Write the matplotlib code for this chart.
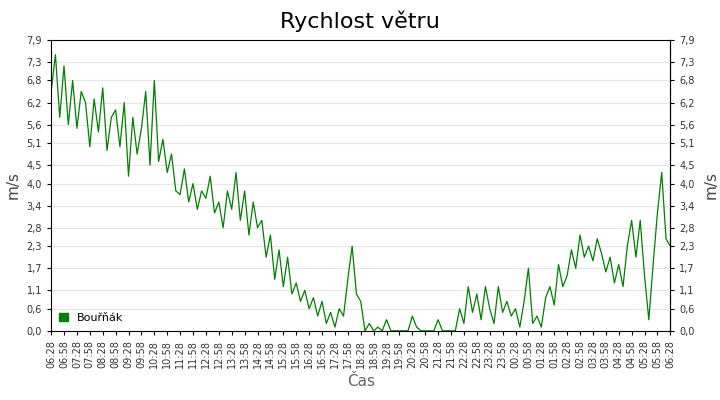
import matplotlib
matplotlib.use("Agg")
import matplotlib.pyplot as plt
import numpy as np
from matplotlib.patches import Patch

title = "Rychlost větru"
series_name = "Bouřňák"
tick_labels = ["06:28","06:58","07:28","07:58","08:28","08:58","09:28","09:58","10:28","10:58",
 "11:28","11:58","12:28","12:58","13:28","13:58","14:28","14:58","15:28","15:58",
 "16:28","16:58","17:28","17:58","18:28","18:58","19:28","19:58","20:28","20:58",
 "21:28","21:58","22:28","22:58","23:28","23:58","00:28","00:58","01:28","01:58",
 "02:28","02:58","03:28","03:58","04:28","04:58","05:28","05:58","06:28"]
y_ticks = [0.0,0.6,1.1,1.7,2.3,2.8,3.4,4.0,4.5,5.1,5.6,6.2,6.8,7.3,7.9]
# wind speed samples every 10 minutes from 06:28
speed = [6.5,7.5,5.8, 7.2,5.6,6.8, 5.5,6.5,6.2, 5.0,6.3,5.4, 6.6,4.9,5.8, 6.0,5.0,6.2,
 4.2,5.8,4.8, 5.5,6.5,4.5, 6.8,4.6,5.2, 4.3,4.8,3.8, 3.7,4.4,3.5, 4.0,3.3,3.8,
 3.6,4.2,3.2, 3.5,2.8,3.8, 3.3,4.3,3.0, 3.8,2.6,3.5, 2.8,3.0,2.0, 2.6,1.4,2.2,
 1.2,2.0,1.0, 1.3,0.8,1.1, 0.6,0.9,0.4, 0.8,0.2,0.5, 0.1,0.6,0.4, 1.4,2.3,1.0,
 0.8,0.0,0.2, 0.0,0.1,0.0, 0.3,0.0,0.0, 0.0,0.0,0.0, 0.4,0.1,0.0, 0.0,0.0,0.0,
 0.3,0.0,0.0, 0.0,0.0,0.6, 0.2,1.2,0.5, 1.0,0.3,1.2, 0.6,0.2,1.2, 0.5,0.8,0.4,
 0.6,0.1,0.8, 1.7,0.2,0.4, 0.1,0.9,1.2, 0.7,1.8,1.2, 1.5,2.2,1.7, 2.6,2.0,2.3,
 1.9,2.5,2.1, 1.6,2.0,1.3, 1.8,1.2,2.3, 3.0,2.0,3.0, 1.5,0.3,1.8, 3.2,4.3,2.5, 2.3]

minutes = np.arange(len(speed)) * 10

fig = plt.figure(figsize=(7.2, 4.0), dpi=100)
ax = fig.add_axes([0.071, 0.173, 0.860, 0.727])
ax.plot(minutes, speed, color="#008000", lw=0.9)
ax.set_xlim(0, 1440)
ax.set_ylim(0, 7.9)
ax.set_xticks(np.arange(len(tick_labels)) * 30)
ax.set_xticklabels(tick_labels, rotation=90, fontsize=7, color="#333333")
ax.set_yticks(y_ticks)
ax.set_yticklabels([f"{v:.1f}".replace(".", ",") for v in y_ticks], fontsize=7, color="#333333")
ax.tick_params(axis="y", which="both", right=True, labelright=True, length=3)
ax.tick_params(axis="x", length=3)
ax.grid(axis="y", color="#e6e6e6", lw=0.8)
ax.set_axisbelow(True)
ax.set_ylabel("m/s", fontsize=11, color="#444444")
ax2 = ax.secondary_yaxis("right")
ax2.set_yticks([])
ax2.set_ylabel("m/s", fontsize=11, color="#444444", labelpad=24)
ax.set_xlabel("Čas", fontsize=11, color="#666666")
fig.suptitle(title, fontsize=16, y=0.975)
ax.legend(handles=[Patch(color="#008000", label=series_name)], loc="lower left",
          frameon=False, fontsize=8, handlelength=0.8, handleheight=0.8, borderaxespad=0.3)
fig.savefig("out.png", dpi=100)
